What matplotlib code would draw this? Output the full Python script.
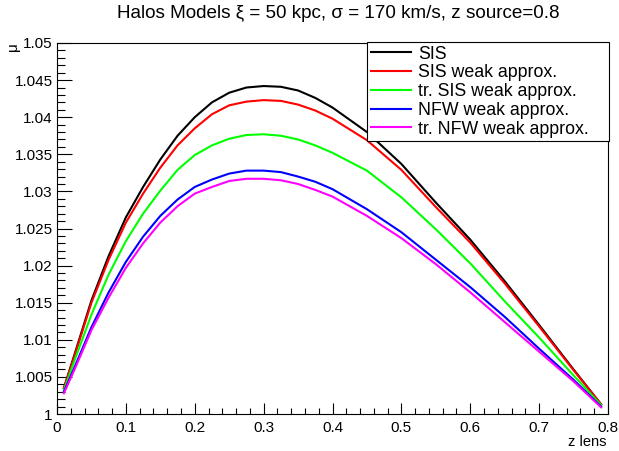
import matplotlib.pyplot as plt
from matplotlib.ticker import MultipleLocator

# values
z_lens = [0.01, 0.025, 0.05, 0.075, 0.1, 0.125, 0.15, 0.175, 0.2, 0.225, 0.25, 0.275, 0.3,
          0.325, 0.35, 0.375, 0.4, 0.45, 0.5, 0.55, 0.6, 0.65, 0.7, 0.75, 0.79]

mu_sis = [1.0035, 1.0079, 1.0153, 1.0213, 1.0265, 1.0306, 1.0343, 1.0375, 1.0400, 1.0420, 1.0433, 1.0440, 1.0442,
          1.0441, 1.0436, 1.0426, 1.0413, 1.0380, 1.0337, 1.0285, 1.0235, 1.0179, 1.0120, 1.0060, 1.0013]
mu_sis_weak = [1.0035, 1.0077, 1.0150, 1.0208, 1.0258, 1.0297, 1.0332, 1.0362, 1.0385, 1.0404, 1.0416, 1.0421, 1.0423,
               1.0422, 1.0417, 1.0409, 1.0398, 1.0369, 1.0329, 1.0279, 1.0231, 1.0176, 1.0118, 1.0059, 1.0013]
mu_tr_sis_weak = [1.0032, 1.0071, 1.0134, 1.0188, 1.0233, 1.0270, 1.0301, 1.0329, 1.0349, 1.0362, 1.0371, 1.0376, 1.0377,
                  1.0375, 1.0370, 1.0362, 1.0352, 1.0328, 1.0292, 1.0249, 1.0203, 1.0152, 1.0103, 1.0052, 1.0012]
mu_nfw_weak = [1.0030, 1.0062, 1.0117, 1.0164, 1.0205, 1.0239, 1.0267, 1.0289, 1.0306, 1.0316, 1.0324, 1.0328, 1.0328,
               1.0326, 1.0320, 1.0313, 1.0303, 1.0276, 1.0245, 1.0208, 1.0171, 1.0131, 1.0088, 1.0046, 1.0010]
mu_tr_nfw_weak = [1.0028, 1.0059, 1.0113, 1.0157, 1.0197, 1.0230, 1.0258, 1.0280, 1.0297, 1.0306, 1.0314, 1.0317, 1.0317,
                  1.0315, 1.0310, 1.0302, 1.0293, 1.0267, 1.0237, 1.0202, 1.0164, 1.0124, 1.0084, 1.0044, 1.0009]

labels = ["SIS", "SIS weak approx.", "tr. SIS weak approx.", "NFW weak approx.", "tr. NFW weak approx."]
colors = ["#000000", "#ff0000", "#00ff00", "#0000ff", "#ff00ff"]

plt.rcParams['font.family'] = ['Liberation Sans', 'DejaVu Sans']

fig = plt.figure(figsize=(6.19, 4.51), dpi=100)
ax = fig.add_axes([57 / 619, 1 - 414 / 451, 551 / 619, 371 / 451])

series = [mu_sis, mu_sis_weak, mu_tr_sis_weak, mu_nfw_weak, mu_tr_nfw_weak]
for mu, lab, col in zip(series, labels, colors):
    ax.plot(z_lens, mu, color=col, linewidth=1.5, label=lab)

ax.set_xlim(0, 0.8)
ax.set_ylim(1, 1.05)

# ROOT style ticks: inside, left and bottom only
ax.xaxis.set_major_locator(MultipleLocator(0.1))
ax.xaxis.set_minor_locator(MultipleLocator(0.02))
ax.yaxis.set_major_locator(MultipleLocator(0.005))
ax.yaxis.set_minor_locator(MultipleLocator(0.001))
ax.tick_params(axis='x', which='major', direction='in', length=8, width=0.8, pad=5, labelsize=11)
ax.tick_params(axis='x', which='minor', direction='in', length=4, width=0.8)
ax.tick_params(axis='y', which='major', direction='in', length=11, width=0.8, pad=3, labelsize=11)
ax.tick_params(axis='y', which='minor', direction='in', length=5.5, width=0.8)
ax.xaxis.set_major_formatter(plt.FuncFormatter(lambda v, p: ('%g' % round(v, 3))))
ax.yaxis.set_major_formatter(plt.FuncFormatter(lambda v, p: ('%g' % round(v, 4))))
for s in ax.spines.values():
    s.set_linewidth(0.8)

fig.text(338 / 619, 1 - 13 / 451, "Halos Models \u03be = 50 kpc, \u03c3 = 170 km/s, z source=0.8",
         ha='center', va='center', fontsize=13.6)
fig.text(607 / 619, 1 - 442 / 451, "z lens", ha='right', va='center', fontsize=10.5)
fig.text(13 / 619, 1 - 42 / 451, "\u03bc", ha='center', va='top', rotation=90, fontsize=11)

leg = ax.legend(loc='upper left', bbox_to_anchor=(367 / 619, 1 - 136 / 451, 242 / 619, 94 / 451),
                bbox_transform=fig.transFigure, mode='expand',
                fontsize=12.75, frameon=True, fancybox=False, framealpha=1, edgecolor='black',
                borderpad=0.2, labelspacing=0.1, handlelength=2.3, handletextpad=0.4, borderaxespad=0)
leg.get_frame().set_linewidth(0.8)

plt.savefig("out.png", dpi=100)
